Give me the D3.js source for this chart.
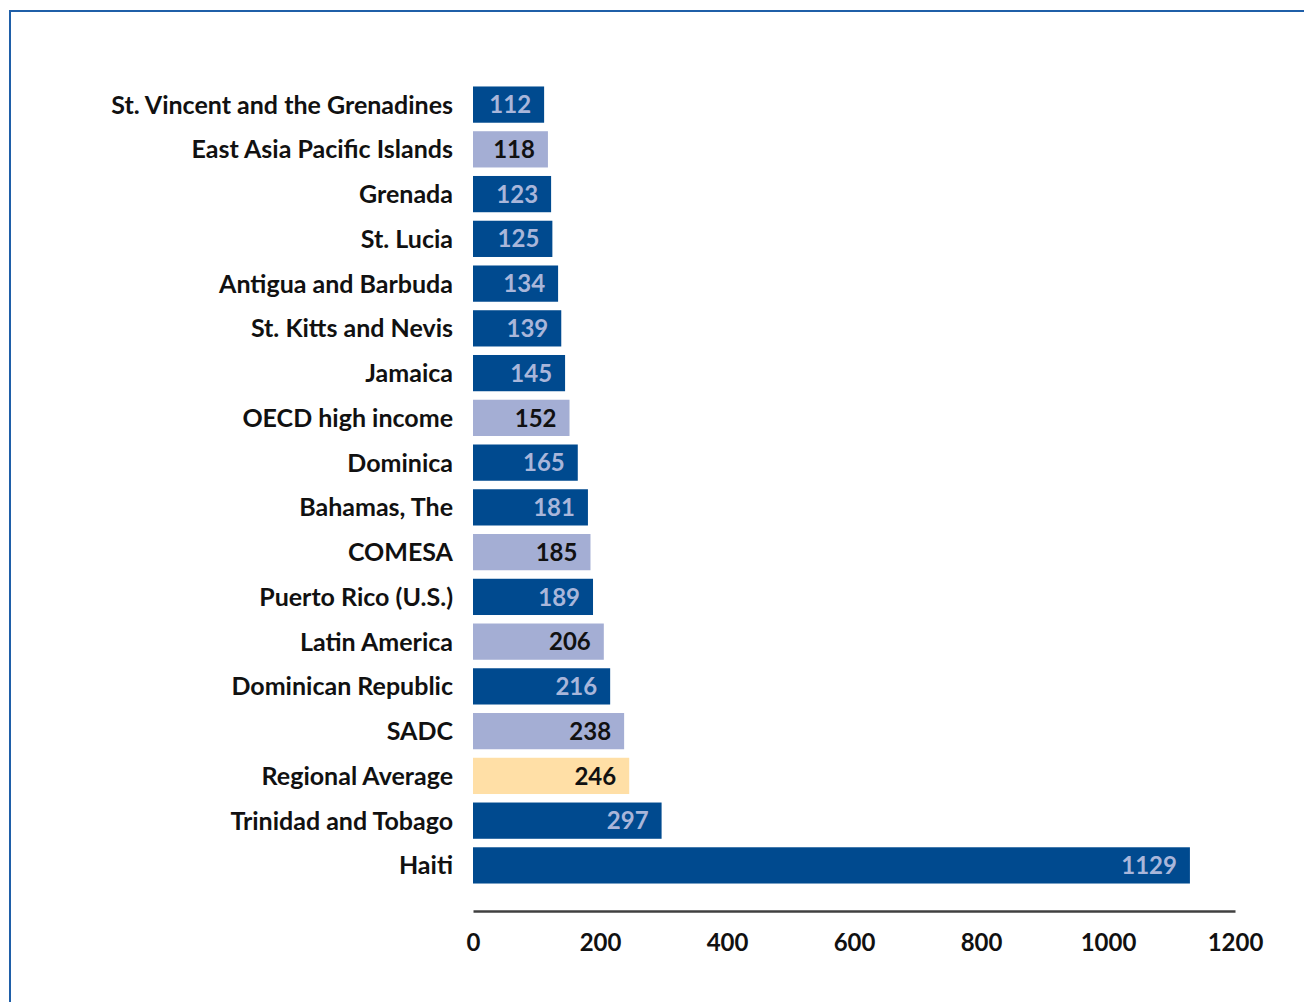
<!DOCTYPE html>
<html><head><meta charset="utf-8">
<script src="https://cdn.jsdelivr.net/npm/d3@7"></script>
<style>body{margin:0;background:#fff;} svg{display:block;}</style>
</head><body>
<svg id="c" width="1304" height="1002"></svg>
<script>
const categories = ["St. Vincent and the Grenadines","East Asia Pacific Islands","Grenada","St. Lucia","Antigua and Barbuda","St. Kitts and Nevis","Jamaica","OECD high income","Dominica","Bahamas, The","COMESA","Puerto Rico (U.S.)","Latin America","Dominican Republic","SADC","Regional Average","Trinidad and Tobago","Haiti"];
const values = [112,118,123,125,134,139,145,152,165,181,185,189,206,216,238,246,297,1129];
const groups = ["economy","comparator","economy","economy","economy","economy","economy","comparator","economy","economy","comparator","economy","comparator","economy","comparator","average","economy","economy"];
const tickValues = [0,200,400,600,800,1000,1200];

const fill = {economy:"#004a8f", comparator:"#a4aed4", average:"#ffdfa6"};
const textFill = {economy:"#a9b6da", comparator:"#111", average:"#111"};
const font = "Lato, 'Open Sans', sans-serif";

const svg = d3.select("#c");
svg.append("rect").attr("x",10).attr("y",11).attr("width",1400).attr("height",1100)
  .attr("fill","none").attr("stroke","#1f5fa8").attr("stroke-width",2);

const x = d3.scaleLinear().domain([0,1200]).range([473,1235]);
const y = d3.scaleBand().domain(categories).range([82,888]).paddingInner(0.19).paddingOuter(0.1);

const data = categories.map((c,i)=>({c, v:values[i], g:groups[i]}));

svg.selectAll("rect.bar").data(data).join("rect").attr("class","bar")
  .attr("x",x(0)).attr("y",d=>y(d.c)).attr("width",d=>x(d.v)-x(0)).attr("height",y.bandwidth())
  .attr("fill",d=>fill[d.g]);

svg.selectAll("text.val").data(data).join("text").attr("class","val")
  .attr("x",d=>x(d.v)-13).attr("y",d=>y(d.c)+y.bandwidth()/2).attr("dy","0.36em")
  .attr("text-anchor","end").attr("font-family",font).attr("font-weight","bold").attr("font-size",24)
  .attr("fill",d=>textFill[d.g]).text(d=>d.v);

svg.selectAll("text.cat").data(data).join("text").attr("class","cat")
  .attr("x",453).attr("y",d=>y(d.c)+y.bandwidth()/2).attr("dy","0.36em")
  .attr("text-anchor","end").attr("font-family",font).attr("font-weight","bold").attr("font-size",25)
  .attr("fill","#111").text(d=>d.c);

const ax = svg.append("g").attr("transform","translate(0,911)")
  .call(d3.axisBottom(x).tickValues(tickValues).tickFormat(d3.format("d")).tickSize(0).tickPadding(23));
ax.select(".domain").attr("stroke","#404040").attr("stroke-width",2.5);
ax.selectAll(".tick text").attr("font-family",font).attr("font-weight","bold").attr("font-size",24).attr("fill","#111");
</script>
</body></html>
